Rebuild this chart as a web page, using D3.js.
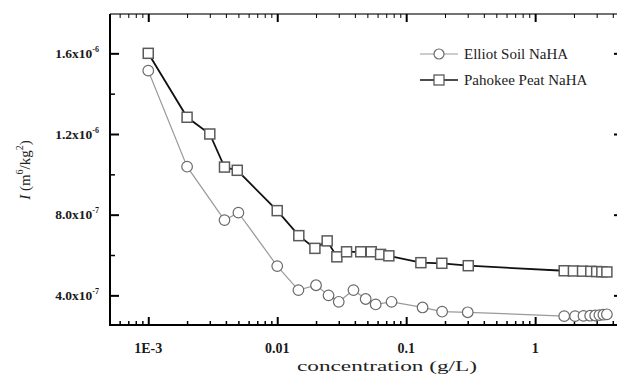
<!DOCTYPE html>
<html>
<head>
<meta charset="utf-8">
<script src="https://cdn.jsdelivr.net/npm/d3@7"></script>
<style>
  body { margin: 0; background: #fff; }
  text { font-family: "Liberation Serif", "Times New Roman", serif; }
</style>
</head>
<body>
<svg id="chart" width="617" height="376"></svg>
<script>
// data
const elliotX = [0.001, 0.002, 0.0039, 0.005, 0.01, 0.0146, 0.02, 0.025, 0.03, 0.039, 0.0485, 0.058, 0.077, 0.134, 0.19, 0.3, 1.68, 2.04, 2.37, 2.67, 2.92, 3.15, 3.38, 3.6];
const elliotY = [1.514e-6, 1.038e-6, 7.73e-7, 8.1e-7, 5.45e-7, 4.26e-7, 4.5e-7, 4.0e-7, 3.68e-7, 4.26e-7, 3.82e-7, 3.55e-7, 3.68e-7, 3.4e-7, 3.19e-7, 3.16e-7, 2.97e-7, 2.97e-7, 2.98e-7, 2.99e-7, 3.0e-7, 3.02e-7, 3.04e-7, 3.06e-7];
const peatX = [0.001, 0.002, 0.003, 0.0039, 0.0049, 0.01, 0.0147, 0.0196, 0.0244, 0.029, 0.0345, 0.0444, 0.0536, 0.0633, 0.0734, 0.13, 0.189, 0.303, 1.68, 1.98, 2.33, 2.7, 3.0, 3.29, 3.6];
const peatY = [1.6e-6, 1.283e-6, 1.2e-6, 1.036e-6, 1.02e-6, 8.2e-7, 6.96e-7, 6.33e-7, 6.7e-7, 5.91e-7, 6.16e-7, 6.16e-7, 6.16e-7, 6.03e-7, 5.96e-7, 5.62e-7, 5.59e-7, 5.47e-7, 5.22e-7, 5.21e-7, 5.2e-7, 5.19e-7, 5.18e-7, 5.17e-7, 5.16e-7];

const xMajor = [0.001, 0.01, 0.1, 1];
const xLabels = ["1E-3", "0.01", "0.1", "1"];
const yMajor = [4e-7, 8e-7, 1.2e-6, 1.6e-6];
const yMinor = [6e-7, 1.0e-6, 1.4e-6];
const yMant = ["4.0", "8.0", "1.2", "1.6"];
const yExp = ["-7", "-7", "-6", "-6"];
const seriesNames = ["Elliot Soil NaHA", "Pahokee Peat NaHA"];

const box = {left: 110, right: 623, top: 14, bottom: 325};

const svg = d3.select("#chart");

const x = d3.scaleLog().domain([5.05e-4, 4.8]).range([box.left, box.right]);
const y = d3.scaleLinear().domain([2.53e-7, 1.795e-6]).range([box.bottom, box.top]);

// minor x ticks: 2..9 in each decade inside domain
const xMinor = [];
[1e-4, 1e-3, 1e-2, 1e-1, 1].forEach(dec => {
  for (let k = 2; k <= 9; k++) {
    const v = dec * k;
    if (v > x.domain()[0] && v < x.domain()[1]) xMinor.push(v);
  }
});

// frame
svg.append("line").attr("x1", box.left).attr("x2", box.right + 2).attr("y1", box.top).attr("y2", box.top)
  .attr("stroke", "#444").attr("stroke-width", 1.5);
svg.append("line").attr("x1", box.right).attr("x2", box.right).attr("y1", box.top).attr("y2", box.bottom)
  .attr("stroke", "#222").attr("stroke-width", 2);

// bottom axis
svg.append("g").attr("transform", `translate(0,${box.bottom})`)
  .call(d3.axisBottom(x).tickValues(xMajor).tickSize(-8).tickFormat(""))
  .call(g => g.select(".domain").attr("stroke-width", 2).attr("d", `M${box.left - 1},0H${box.right}`))
  .call(g => g.selectAll(".tick line").attr("stroke-width", 2));
svg.append("g").attr("transform", `translate(0,${box.bottom})`)
  .call(d3.axisBottom(x).tickValues(xMinor).tickSize(-4).tickFormat(""))
  .call(g => g.select(".domain").remove())
  .call(g => g.selectAll(".tick line").attr("stroke-width", 1.5));
svg.append("g").selectAll("text").data(xMajor).join("text")
  .attr("x", d => x(d)).attr("y", box.bottom + 28)
  .attr("text-anchor", "middle").attr("font-size", 14).attr("font-weight", "bold")
  .attr("fill", "#1a1a1a")
  .text((d, i) => xLabels[i]);

// top axis ticks
svg.append("g").attr("transform", `translate(0,${box.top})`)
  .call(d3.axisTop(x).tickValues(xMajor).tickSize(-8).tickFormat(""))
  .call(g => g.select(".domain").remove())
  .call(g => g.selectAll(".tick line").attr("stroke-width", 2));
svg.append("g").attr("transform", `translate(0,${box.top})`)
  .call(d3.axisTop(x).tickValues(xMinor).tickSize(-4).tickFormat(""))
  .call(g => g.select(".domain").remove());

// left axis
svg.append("g").attr("transform", `translate(${box.left},0)`)
  .call(d3.axisLeft(y).tickValues(yMajor).tickSize(-9).tickFormat(""))
  .call(g => g.select(".domain").attr("stroke-width", 2).attr("d", `M0,${box.top}V${box.bottom + 1}`))
  .call(g => g.selectAll(".tick line").attr("stroke-width", 2));
svg.append("g").attr("transform", `translate(${box.left},0)`)
  .call(d3.axisLeft(y).tickValues(yMinor).tickSize(-5).tickFormat(""))
  .call(g => g.select(".domain").remove())
  .call(g => g.selectAll(".tick line").attr("stroke-width", 1.5));

// right axis ticks
svg.append("g").attr("transform", `translate(${box.right},0)`)
  .call(d3.axisRight(y).tickValues(yMajor).tickSize(-9).tickFormat(""))
  .call(g => g.select(".domain").remove())
  .call(g => g.selectAll(".tick line").attr("stroke-width", 2));

const yl = svg.append("g").selectAll("text").data(yMajor).join("text")
  .attr("x", 99).attr("y", d => y(d) + 4.5)
  .attr("text-anchor", "end").attr("font-size", 13.5).attr("font-weight", "bold")
  .attr("fill", "#1a1a1a");
yl.append("tspan").text((d, i) => yMant[i] + "x10");
yl.append("tspan").attr("dy", -6).attr("font-size", 8).text((d, i) => yExp[i]);

// axis titles
svg.append("text").attr("x", 387).attr("y", 371).attr("text-anchor", "middle")
  .attr("font-size", 14.5).attr("fill", "#222")
  .attr("textLength", 180).attr("lengthAdjust", "spacingAndGlyphs")
  .text("concentration (g/L)");

const yt = svg.append("text").attr("transform", "translate(30,170) rotate(-90)")
  .attr("text-anchor", "middle").attr("font-size", 15).attr("fill", "#222");
yt.append("tspan").attr("font-style", "italic").text("I");
yt.append("tspan").text(" (m");
yt.append("tspan").attr("dy", -7).attr("font-size", 10).text("6");
yt.append("tspan").attr("dy", 7).text("/kg");
yt.append("tspan").attr("dy", -7).attr("font-size", 10).text("2");
yt.append("tspan").attr("dy", 7).text(")");

// series
const elliot = elliotX.map((v, i) => [v, elliotY[i]]);
const peat = peatX.map((v, i) => [v, peatY[i]]);
const line = d3.line().x(d => x(d[0])).y(d => y(d[1]));

svg.append("path").datum(elliot).attr("d", line)
  .attr("fill", "none").attr("stroke", "#9a9a9a").attr("stroke-width", 1.2);
svg.append("path").datum(peat).attr("d", line)
  .attr("fill", "none").attr("stroke", "#111").attr("stroke-width", 1.8);

svg.append("g").selectAll("circle").data(elliot).join("circle")
  .attr("cx", d => x(d[0])).attr("cy", d => y(d[1])).attr("r", 5.3)
  .attr("fill", "#fff").attr("stroke", "#6a6a6a").attr("stroke-width", 1.2);
svg.append("g").selectAll("rect").data(peat).join("rect")
  .attr("x", d => x(d[0]) - 5).attr("y", d => y(d[1]) - 5)
  .attr("width", 10).attr("height", 10)
  .attr("fill", "#fff").attr("stroke", "#5a5a5a").attr("stroke-width", 1.5);

// legend
const leg = svg.append("g");
leg.append("line").attr("x1", 420).attr("x2", 458).attr("y1", 54).attr("y2", 54)
  .attr("stroke", "#9a9a9a").attr("stroke-width", 1.2);
leg.append("circle").attr("cx", 439).attr("cy", 54).attr("r", 5)
  .attr("fill", "#fff").attr("stroke", "#6a6a6a").attr("stroke-width", 1.2);
leg.append("line").attr("x1", 420).attr("x2", 458).attr("y1", 80).attr("y2", 80)
  .attr("stroke", "#111").attr("stroke-width", 1.5);
leg.append("rect").attr("x", 434).attr("y", 75).attr("width", 10).attr("height", 10)
  .attr("fill", "#fff").attr("stroke", "#5a5a5a").attr("stroke-width", 1.3);
leg.selectAll("text").data(seriesNames).join("text")
  .attr("x", 464).attr("y", (d, i) => 59 + i * 26)
  .attr("font-size", 15).attr("fill", "#222")
  .text(d => d);
</script>
</body>
</html>
